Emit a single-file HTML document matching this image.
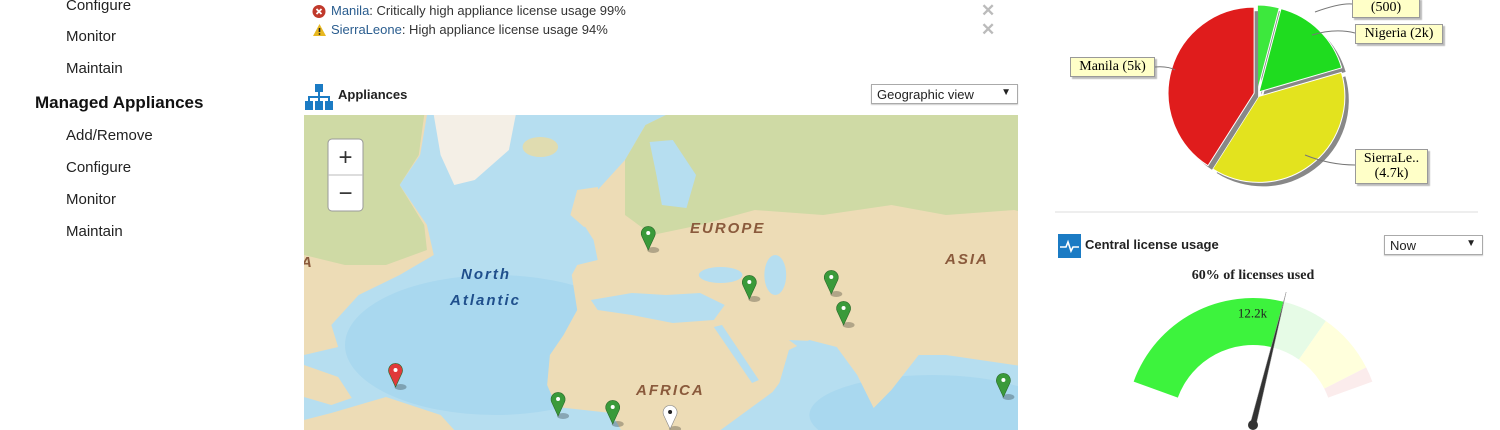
<!DOCTYPE html>
<html><head><meta charset="utf-8">
<style>
body{margin:0;width:1500px;height:430px;overflow:hidden;background:#fff;font-family:"Liberation Sans",sans-serif;position:relative}
.abs{position:absolute}
.nav{font-size:15px;color:#222;left:66px}
.alert{font-size:13px;color:#333;left:313px}
.alert b{font-weight:normal;color:#2a5d8f}
.x{color:#bbb;font-size:17px;font-weight:bold;left:981px}
.sel{border:1px solid #aaa;background:#fff;font-size:13px;color:#222;box-sizing:border-box;padding:2px 5px;box-shadow:0 1px 1px #ccc}
.sel span{position:absolute;right:6px;top:2px;font-size:10px}
.lbl{font-family:"Liberation Serif",serif;font-size:14px;background:#ffffc8;border:1px solid #999;box-shadow:2px 2px 1px #bbb;text-align:center;line-height:15px;padding:1px 2px;box-sizing:border-box;white-space:nowrap}
.hdr{font-size:13px;font-weight:bold;color:#222}
</style></head><body>
<div class="abs nav" style="top:-3px">Configure</div>
<div class="abs nav" style="top:28px">Monitor</div>
<div class="abs nav" style="top:60px">Maintain</div>
<div class="abs" style="left:35px;top:93px;font-size:17px;font-weight:bold;color:#111">Managed Appliances</div>
<div class="abs nav" style="top:127px">Add/Remove</div>
<div class="abs nav" style="top:159px">Configure</div>
<div class="abs nav" style="top:191px">Monitor</div>
<div class="abs nav" style="top:223px">Maintain</div>

<svg class="abs" style="left:312px;top:4px" width="15" height="15"><circle cx="7" cy="7.5" r="6.5" fill="#c0392b"/><path d="M4.5 5l5 5M9.5 5l-5 5" stroke="#fff" stroke-width="1.8"/></svg>
<div class="abs alert" style="left:331px;top:3px"><b>Manila</b>: Critically high appliance license usage 99%</div>
<div class="abs x" style="top:1px">✕</div>
<svg class="abs" style="left:312px;top:23px" width="15" height="14"><path d="M7.5 1L14 13H1z" fill="#e8b820"/><path d="M7.5 5v4" stroke="#222" stroke-width="1.6"/><circle cx="7.5" cy="11" r="0.9" fill="#222"/></svg>
<div class="abs alert" style="left:331px;top:22px"><b>SierraLeone</b>: High appliance license usage 94%</div>
<div class="abs x" style="top:20px">✕</div>

<svg class="abs" style="left:305px;top:84px" width="28" height="26"><g fill="#1b7bc4"><rect x="10" y="0" width="8" height="8"/><rect x="0" y="17" width="8" height="9"/><rect x="10" y="17" width="8" height="9"/><rect x="20" y="17" width="8" height="9"/><path d="M13 8h2v4h10v5h-2v-3h-8v3h-2v-3H5v3H3v-5h10z"/></g></svg>
<div class="abs hdr" style="left:338px;top:87px">Appliances</div>
<div class="abs sel" style="left:871px;top:84px;width:147px;height:20px">Geographic view<span>▼</span></div>

<svg class="abs" style="left:304px;top:115px" width="714" height="315" viewBox="0 0 714 315">
<rect width="714" height="315" fill="#b6def0"/>
<g transform="scale(1.366,1)">
<ellipse cx="140" cy="230" rx="110" ry="70" fill="#a4d5ee" opacity=".7"/>
<ellipse cx="460" cy="300" rx="90" ry="40" fill="#a4d5ee" opacity=".7"/>
<g fill="#eddcb6">
<polygon points="0,0 90,0 85,40 70,70 90,110 95,140 70,160 40,180 20,210 25,232 0,240"/>
<polygon points="0,250 25,262 35,283 20,290 0,282"/>
<polygon points="20,298 60,282 100,300 110,315 0,315 0,305"/>
<polygon points="197,95 215,75 235,45 250,10 265,0 714,0 714,240 680,245 650,255 620,270 600,300 590,315 585,315 575,270 545,255 470,240 450,240 430,275 417,293 405,260 390,232 370,225 355,235 348,268 343,277 320,300 305,315 232,315 225,298 185,292 178,270 180,240 190,220 200,195 196,160 200,150 215,145 212,125 205,110"/>
<polygon points="200,75 215,72 220,105 205,112 195,100"/>
</g>
<polygon points="95,0 155,0 150,35 125,65 110,70 100,40" fill="#f4efe6"/>
<ellipse cx="173" cy="32" rx="13" ry="10" fill="#e0dcb0"/>
<g fill="#cbd9a3" opacity=".9">
<polygon points="0,0 88,0 84,40 70,70 88,110 90,135 60,150 30,150 0,140"/>
<polygon points="235,45 250,10 265,0 714,0 714,130 650,120 600,105 560,110 520,95 470,100 430,90 380,100 330,95 290,110 255,120 235,100"/>
<polygon points="540,200 600,200 640,230 620,265 560,250"/>
</g>
<g fill="#b6def0">
<polygon points="210,185 240,178 265,180 290,178 308,190 300,205 270,208 240,200 215,195"/>
<ellipse cx="305" cy="160" rx="16" ry="8"/>
<ellipse cx="345" cy="160" rx="8" ry="20"/>
<polygon points="300,212 306,210 333,265 328,268"/>
<polygon points="253,27 270,25 287,60 280,93 262,90 258,60"/>
<polygon points="355,225 372,226 365,235"/>
</g>
</g>
<g font-family="Liberation Sans,sans-serif" font-weight="bold" font-style="italic" font-size="15" letter-spacing="2">
<text x="386" y="118" fill="#8a5a3c">EUROPE</text>
<text x="641" y="149" fill="#8a5a3c">ASIA</text>
<text x="332" y="280" fill="#8a5a3c">AFRICA</text>
<text x="-3" y="152" fill="#8a5a3c">A</text>
<text x="157" y="164" fill="#1f4f8c">North</text>
<text x="146" y="190" fill="#1f4f8c">Atlantic</text>
</g>
<g id="pins"></g>
<g>
<rect x="24" y="24" width="35" height="72" rx="4" fill="#fff" stroke="#999"/>
<line x1="24" y1="60" x2="59" y2="60" stroke="#bbb"/>
<text x="41.5" y="50" text-anchor="middle" font-size="24" fill="#333">+</text>
<text x="41.5" y="86" text-anchor="middle" font-size="24" fill="#333">−</text>
</g>
</svg>

<div class="abs lbl" style="left:1352px;top:-2px;width:68px;height:20px">(500)</div>
<div class="abs lbl" style="left:1355px;top:24px;width:88px;height:20px">Nigeria (2k)</div>
<div class="abs lbl" style="left:1070px;top:57px;width:85px;height:20px">Manila (5k)</div>
<div class="abs lbl" style="left:1355px;top:149px;width:73px;height:35px">SierraLe..<br>(4.7k)</div>
<svg class="abs" style="left:1050px;top:0" width="450" height="215">
<g id="pie"></g>
<g stroke="#777" fill="none" stroke-width="1">
<path d="M265 12 Q290 3 302 4"/><path d="M262 35 Q285 28 305 33"/><path d="M105 67 Q118 66 125 70"/><path d="M255 155 Q280 165 305 165"/>
</g>
<line x1="5" y1="212" x2="428" y2="212" stroke="#ddd"/>
</svg>

<svg class="abs" style="left:1058px;top:234px" width="23" height="24"><rect width="23" height="24" fill="#1b7bc4"/><path d="M2 13h6l2-5 3 9 2-4h6" stroke="#fff" stroke-width="1.6" fill="none"/></svg>
<div class="abs hdr" style="left:1085px;top:237px">Central license usage</div>
<div class="abs sel" style="left:1384px;top:235px;width:99px;height:20px">Now<span>▼</span></div>
<div class="abs" style="left:1100px;top:268px;width:306px;text-align:center;font-family:'Liberation Serif',serif;font-weight:bold;font-size:14px;color:#222">60% of licenses used</div>
<svg class="abs" style="left:1050px;top:260px" width="450" height="170"><g id="gauge"></g></svg>

<script>
const NS='http://www.w3.org/2000/svg';
function mk(t,a,p){const e=document.createElementNS(NS,t);for(const k in a)e.setAttribute(k,a[k]);p.appendChild(e);return e;}

// Map markers (map-local coordinates; x scaled by MAPK)
const pinNames=['vienna','georgia','uzbekistan','pakistan','sierraleone','ghana','manila','caribbean','congo'];
const pinX=[252,326,386,395,186,226,512,67,268];
const pinY=[118,167,162,193,284,292,265,255,297];
const pinStatus=['ok','ok','ok','ok','ok','ok','ok','critical','maint'];
const pinColor={ok:'#3a9a3a',critical:'#e03a3a',maint:'#ffffff'};
const MAPK=1.366;
const pg=document.getElementById('pins');
pinNames.forEach((n,i)=>{
  const g=mk('g',{transform:`translate(${pinX[i]*MAPK},${pinY[i]})`},pg);
  
  
  mk('ellipse',{cx:5,cy:17,rx:6,ry:3,fill:'#000',opacity:.25},g);
  mk('path',{d:'M0 17 L-6.5 3 A7 7 0 1 1 6.5 3 Z',fill:pinColor[pinStatus[i]],stroke:pinStatus[i]==='maint'?'#888':'#2a6a2a','stroke-width':.6},g);
  mk('circle',{cx:0,cy:0,r:2,fill:pinStatus[i]==='maint'?'#222':'#fff'},g);
});

// Pie chart data
const pieNames=['small-site','nigeria','sierraleone','manila'];
const pieValues=[500,2000,4700,5000];
const pieColors=['#3de83d','#1fdc1f','#e3e31e','#e01c1c'];
const pcx=207,pcy=94,pr=86;
const pie=document.getElementById('pie');
const total=pieValues.reduce((a,b)=>a+b,0);
let a0=0;
pieValues.forEach((v,i)=>{
  const a1=a0+v/total*2*Math.PI, mid=(a0+a1)/2;
  const ox=Math.sin(mid)*3, oy=-Math.cos(mid)*3;
  const p=(a,r)=>[pcx+ox+Math.sin(a)*r, pcy+oy-Math.cos(a)*r];
  const s=p(a0,pr),e=p(a1,pr),large=(a1-a0)>Math.PI?1:0;
  const d=`M${pcx+ox} ${pcy+oy} L${s[0]} ${s[1]} A${pr} ${pr} 0 ${large} 1 ${e[0]} ${e[1]}Z`;
  mk('path',{d,fill:'#888',transform:'translate(4,4)'},pie);
  const sl=mk('path',{d,fill:pieColors[i],stroke:'#fff','stroke-width':1},pie);
  
  
  a0=a1;
});

// Gauge data
const gaugeValue=0.60;
const bandStops=[0,0.60,0.75,0.95,1.0];
const bandColors=['#3df33d','#e6fbe6','#ffffdc','#fbecec'];
const bandNames=['used','ok','warning','critical'];
const gcx=203,gcy=165,ro=127,ri=80,aStart=160,aSweep=140;
const gg=document.getElementById('gauge');
const ang=f=>(aStart-f*aSweep)*Math.PI/180;
const pt=(f,r)=>[gcx+Math.cos(ang(f))*r,gcy-Math.sin(ang(f))*r];
for(let i=0;i<bandColors.length;i++){
  const f0=bandStops[i],f1=bandStops[i+1];
  const a=pt(f0,ro),b=pt(f1,ro),c=pt(f1,ri),d=pt(f0,ri);
  const el=mk('path',{d:`M${a[0]} ${a[1]} A${ro} ${ro} 0 0 1 ${b[0]} ${b[1]} L${c[0]} ${c[1]} A${ri} ${ri} 0 0 0 ${d[0]} ${d[1]}Z`,fill:bandColors[i]},gg);
  
  
}
const lt=pt(gaugeValue,116);
const vt=mk('text',{x:lt[0]-14,y:lt[1]+5,'text-anchor':'end','font-family':'Liberation Serif,serif','font-size':13,fill:'#222'},gg);
vt.textContent='12.2k';


const tip=pt(gaugeValue,137),a=ang(gaugeValue),px=Math.sin(a)*3,py=Math.cos(a)*3;
const nd=mk('path',{d:`M${tip[0]} ${tip[1]} L${gcx+px} ${gcy+py} L${gcx-px} ${gcy-py}Z`,fill:'#333',stroke:'#999','stroke-width':.5},gg);


mk('circle',{cx:gcx,cy:gcy,r:5,fill:'#333'},gg);
</script>
</body></html>
